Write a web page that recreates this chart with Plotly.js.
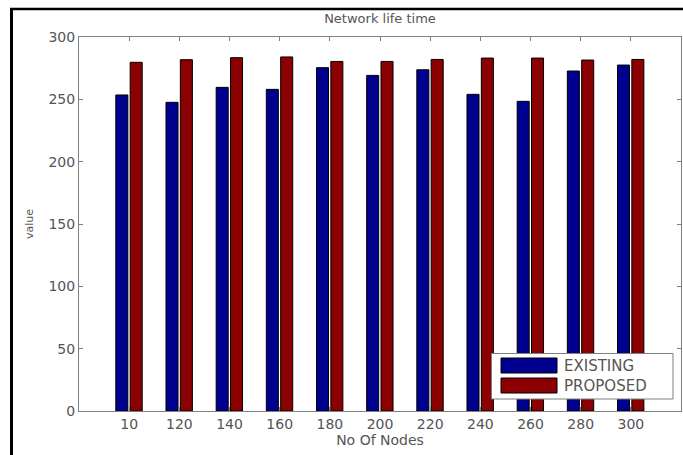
<!DOCTYPE html>
<html>
<head>
<meta charset="utf-8">
<script src="https://cdn.plot.ly/plotly-3.0.1.min.js"></script>
<style>html,body{margin:0;padding:0;background:#fff;}#chart{width:683px;height:455px;}</style>
</head>
<body>
<div id="chart"></div>
<script>
const categories = ["10","120","140","160","180","200","220","240","260","280","300"];
const existing = [253.5, 247.6, 259.6, 258, 275.4, 269.2, 273.7, 254, 248.4, 272.7, 277.5];
const proposed = [279.7, 281.8, 283.4, 284, 280.4, 280.4, 282, 283.1, 283.1, 281.5, 282];
const yTicks = [0, 50, 100, 150, 200, 250, 300];
const seriesNames = ["EXISTING", "PROPOSED"];
const colors = ["#00008f", "#8b0000"];

const L = 79, R = 681, T = 37, B = 411;
const px = x => (x - L) / (R - L);
const py = y => (B - y) / (B - T);

const font = "DejaVu Sans, sans-serif";
const grey = "#555";

const traces = [
  {type: "bar", x: categories, y: existing, name: seriesNames[0], offset: -0.266, width: 0.24,
   marker: {color: colors[0], line: {color: "#000", width: 1}}},
  {type: "bar", x: categories, y: proposed, name: seriesNames[1], offset: 0.02, width: 0.24,
   marker: {color: colors[1], line: {color: "#000", width: 1}}}
];

const axisCommon = {
  showline: true, linecolor: "#808080", linewidth: 1, mirror: "ticks",
  ticks: "inside", ticklen: 4, tickcolor: "#808080",
  showgrid: false, zeroline: false,
  tickfont: {family: font, size: 14, color: grey}
};

const layout = {
  width: 683, height: 455,
  margin: {l: L, r: 683 - R, t: T, b: 455 - B},
  paper_bgcolor: "#fff", plot_bgcolor: "#fff",
  barmode: "overlay",
  showlegend: false,
  title: {text: "Network life time", font: {family: font, size: 13, color: grey}, x: 0.5, xref: "paper", xanchor: "center", y: 1 - 18/455, yanchor: "middle"},
  xaxis: Object.assign({}, axisCommon, {
    type: "category", range: [-1, 11],
    title: {text: "No Of Nodes", font: {family: font, size: 14, color: grey}, standoff: 4}
  }),
  yaxis: Object.assign({}, axisCommon, {
    range: [0, 300], tickvals: yTicks, ticktext: yTicks.map(String),
    title: {text: "value", font: {family: font, size: 11, color: grey}, standoff: 12}
  }),
  shapes: [
    {type: "line", xref: "paper", yref: "paper", x0: px(10), x1: px(690), y0: py(9), y1: py(9),
     line: {color: "#000", width: 2.5}},
    {type: "line", xref: "paper", yref: "paper", x0: px(11.5), x1: px(11.5), y0: py(8), y1: py(470),
     line: {color: "#000", width: 3}},
    {type: "rect", xref: "paper", yref: "paper", x0: px(491.5), x1: px(673), y0: py(399), y1: py(353.5),
     line: {color: "#808080", width: 1}, fillcolor: "#fff"},
    {type: "rect", xref: "paper", yref: "paper", x0: px(501), x1: px(557), y0: py(373), y1: py(358),
     line: {color: "#000", width: 1}, fillcolor: colors[0]},
    {type: "rect", xref: "paper", yref: "paper", x0: px(501), x1: px(557), y0: py(393), y1: py(378),
     line: {color: "#000", width: 1}, fillcolor: colors[1]}
  ],
  annotations: [
    {xref: "paper", yref: "paper", x: px(562), y: py(366), xanchor: "left", yanchor: "middle", showarrow: false,
     text: seriesNames[0], font: {family: font, size: 15, color: grey}},
    {xref: "paper", yref: "paper", x: px(562), y: py(386), xanchor: "left", yanchor: "middle", showarrow: false,
     text: seriesNames[1], font: {family: font, size: 15, color: grey}}
  ]
};

Plotly.newPlot("chart", traces, layout, {displayModeBar: false, staticPlot: true});
</script>
</body>
</html>
